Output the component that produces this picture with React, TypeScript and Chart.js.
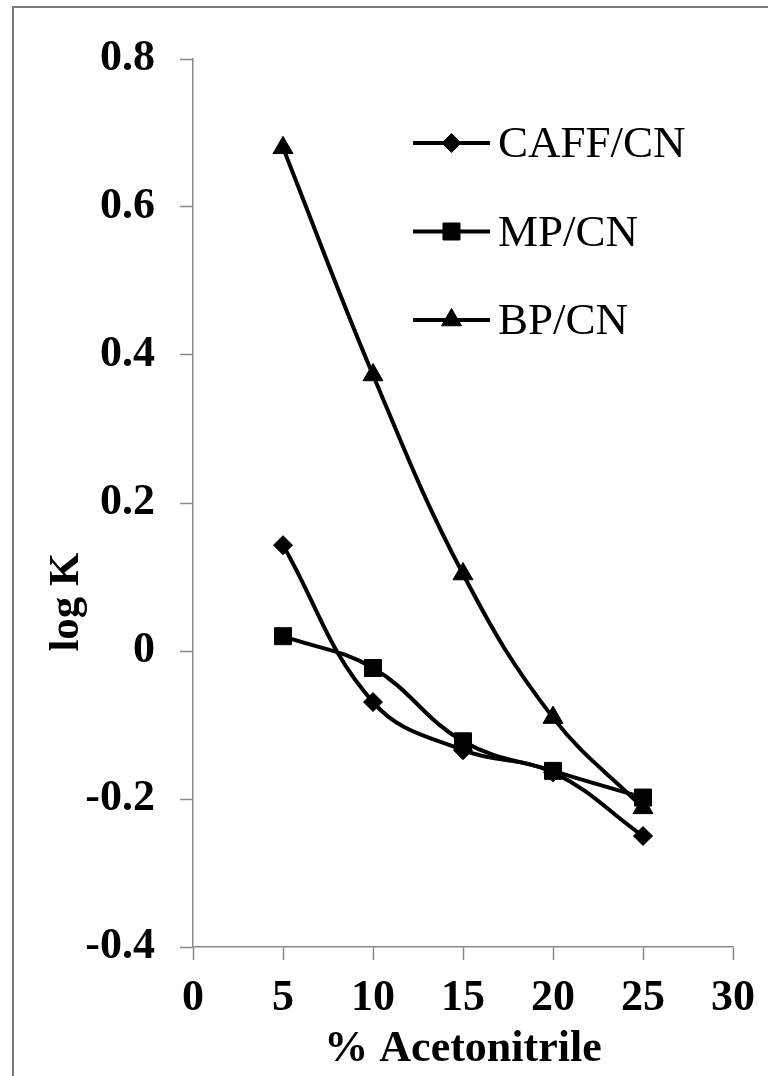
import React, { useEffect, useRef } from 'react';
import { Chart, registerables } from 'chart.js';

Chart.register(...registerables);

// ---- data ----
const xValues = [5, 10, 15, 20, 25];
const caffCN = [0.143, -0.069, -0.134, -0.164, -0.25];
const mpCN = [0.02, -0.023, -0.122, -0.162, -0.198];
const bpCN = [0.68, 0.373, 0.104, -0.09, -0.212];
const seriesLabels = ['CAFF/CN', 'MP/CN', 'BP/CN'];
const seriesStyles = ['rectRot', 'rect', 'triangle'];
const seriesRadii = [9.5, 12, 11.5];
const xTitle = '% Acetonitrile';
const yTitle = 'log K';

const FONT = '"Liberation Serif", "Times New Roman", serif';

function drawMarker(ctx: CanvasRenderingContext2D, style: string, x: number, y: number, r: number) {
  ctx.beginPath();
  if (style === 'rectRot') {
    ctx.moveTo(x - r, y);
    ctx.lineTo(x, y - r);
    ctx.lineTo(x + r, y);
    ctx.lineTo(x, y + r);
  } else if (style === 'rect') {
    const s = Math.SQRT1_2 * r;
    ctx.rect(x - s, y - s, 2 * s, 2 * s);
  } else {
    const w = r * Math.sin(Math.PI * 2 / 3);
    ctx.moveTo(x, y - r);
    ctx.lineTo(x + w, y + r / 2);
    ctx.lineTo(x - w, y + r / 2);
  }
  ctx.closePath();
  ctx.fill();
  ctx.stroke();
}

const overlayPlugin = {
  id: 'overlay',
  afterDraw(chart: any) {
    const { ctx, chartArea } = chart;
    ctx.save();
    ctx.fillStyle = '#000';
    ctx.strokeStyle = '#000';

    // y axis title
    ctx.save();
    ctx.font = `bold 43px ${FONT}`;
    ctx.translate(chartArea.left - 126, chartArea.top + 543);
    ctx.rotate(-Math.PI / 2);
    ctx.textAlign = 'center';
    ctx.textBaseline = 'middle';
    ctx.fillText(yTitle, 0, 0);
    ctx.restore();

    // x axis title
    ctx.font = `bold 44px ${FONT}`;
    ctx.textAlign = 'center';
    ctx.textBaseline = 'middle';
    ctx.fillText(xTitle, (chartArea.left + chartArea.right) / 2, chartArea.bottom + 103);

    // legend
    ctx.font = `45px ${FONT}`;
    ctx.textAlign = 'left';
    ctx.textBaseline = 'alphabetic';
    chart.data.datasets.forEach((ds: any, i: number) => {
      const rowY = chartArea.top + 84 + i * 88.5;
      const x0 = chartArea.left + 220;
      const x1 = chartArea.left + 297;
      ctx.lineWidth = 4;
      ctx.beginPath();
      ctx.moveTo(x0, rowY);
      ctx.lineTo(x1, rowY);
      ctx.stroke();
      ctx.lineWidth = 1;
      drawMarker(ctx, seriesStyles[i], (x0 + x1) / 2, rowY, seriesRadii[i]);
      ctx.fillText(ds.label, chartArea.left + 305, rowY + 14);
    });
    ctx.restore();
  },
};

export default function App() {
  const canvasRef = useRef<HTMLCanvasElement | null>(null);

  useEffect(() => {
    if (!canvasRef.current) return;
    const seriesData = [caffCN, mpCN, bpCN];
    const chart = new Chart(canvasRef.current, {
      type: 'line',
      data: {
        datasets: seriesData.map((vals, i) => ({
          label: seriesLabels[i],
          data: xValues.map((x, j) => ({ x, y: vals[j] })),
          borderColor: '#000',
          backgroundColor: '#000',
          borderWidth: 4,
          tension: 0.4,
          pointStyle: seriesStyles[i] as any,
          pointRadius: seriesRadii[i],
          pointBackgroundColor: '#000',
          pointBorderColor: '#000',
          pointBorderWidth: 1,
          fill: false,
        })),
      },
      options: {
        responsive: false,
        animation: false,
        layout: { padding: { left: 0, top: 59, right: 35, bottom: 0 } },
        plugins: {
          legend: { display: false },
          tooltip: { enabled: false },
        },
        scales: {
          x: {
            type: 'linear',
            min: 0,
            max: 30,
            ticks: {
              stepSize: 5,
              color: '#000',
              padding: 12,
              font: { family: FONT, size: 44, weight: 'bold' },
            },
            grid: {
              display: true,
              drawOnChartArea: false,
              drawTicks: true,
              tickLength: 13,
              tickColor: '#8a8a8a',
              tickWidth: 1.5,
            },
            border: { display: true, color: '#8a8a8a', width: 1.5 },
            afterFit: (scale: any) => {
              scale.height = 129;
            },
          },
          y: {
            type: 'linear',
            min: -0.4,
            max: 0.8,
            ticks: {
              stepSize: 0.2,
              color: '#000',
              padding: 25,
              font: { family: FONT, size: 44, weight: 'bold' },
              callback: (v: any) => String(Number(Number(v).toFixed(1))),
            },
            grid: {
              display: true,
              drawOnChartArea: false,
              drawTicks: true,
              tickLength: 13,
              tickColor: '#8a8a8a',
              tickWidth: 1.5,
            },
            border: { display: true, color: '#8a8a8a', width: 1.5 },
            afterFit: (scale: any) => {
              scale.width = 193;
            },
          },
        },
      },
      plugins: [overlayPlugin],
    });
    return () => chart.destroy();
  }, []);

  return (
    <div style={{ position: 'absolute', left: 0, top: 0, width: 768, height: 1076, background: '#fff' }}>
      <div
        style={{
          position: 'absolute',
          left: 12,
          top: 6,
          width: 756,
          height: 1070,
          borderLeft: '2px solid #7a7a7a',
          borderTop: '2px solid #7a7a7a',
          boxSizing: 'border-box',
        }}
      />
      <canvas
        ref={canvasRef}
        width={768}
        height={1076}
        style={{ position: 'absolute', left: 0, top: 0, width: 768, height: 1076 }}
      />
    </div>
  );
}
